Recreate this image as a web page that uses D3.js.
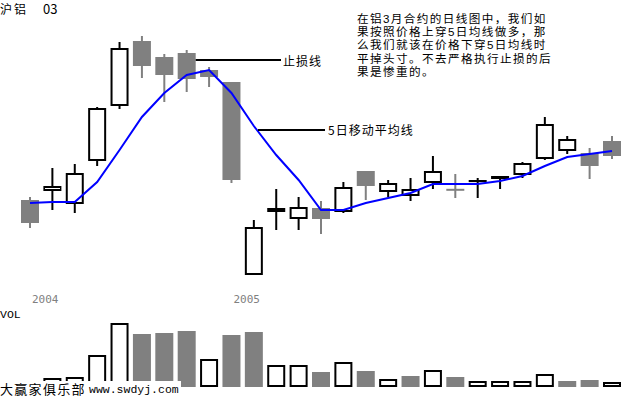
<!DOCTYPE html>
<html><head><meta charset="utf-8">
<script src="https://cdn.jsdelivr.net/npm/d3@7"></script>
<style>html,body{margin:0;padding:0;background:#fff;}svg{display:block;}</style>
</head><body>
<svg id="c" width="625" height="397"></svg>
<script>
// ---- data ----
const opens  = [15800,15890,15760,16190,16740,17390,17230,17270,17100,16980,15050,15680,15610,15720,15680,16090,15880,15840,15970,15912,16000,16010,16050,16210,16290,16270,16390];
const highs  = [15830,16120,16160,16730,17380,17440,17260,17300,17130,16980,15600,15910,15830,15790,15980,16090,16000,16020,16240,16060,16020,16040,16180,16630,16440,16320,16440];
const lows   = [15520,15700,15670,16140,16710,17020,16780,16880,16930,15970,15050,15500,15500,15460,15670,15800,15830,15790,15910,15820,15820,15910,16020,16200,16260,16010,16210];
const closes = [15570,15940,16070,16720,17320,17140,17050,17010,17030,16000,15530,15720,15730,15610,15930,15940,15970,15910,16090,15908,16000,16040,16170,16560,16410,16140,16240];
const ma5    = [15770,15780,15780,15980,16300,16630,16870,17050,17100,16870,16540,16250,16000,15700,15700,15770,15820,15870,15960,15960,15960,15990,16040,16140,16230,16260,16290];
const volumes= [4000,9000,10000,32000,64000,53000,54000,56000,28000,52000,55000,22000,22000,15000,25000,16000,8000,11000,17000,10000,6000,6000,6000,13000,6000,7000,5000];
const volUp  = [0,1,1,1,1,0,0,0,1,0,0,1,1,0,1,0,1,0,1,0,1,1,1,1,0,0,1];
const yearLabels = [{i:0, t:"2004"}, {i:9, t:"2005"}];
const titleName = "沪铝";
const titleCode = "03";
const noteLines = ["在铝3月合约的日线图中，我们如","果按照价格上穿5日均线做多，那","么我们就该在价格下穿5日均线时","平掉头寸。不去严格执行止损的后","果是惨重的。"];

// ---- drawing ----
const svg = d3.select("#c");
const GRAY = "#808080";
const CJK = "'Noto Sans CJK SC', sans-serif";
const NOTEFONT = "'Liberation Sans', 'Noto Sans CJK SC', sans-serif";
const idx = d3.range(closes.length);
const x = d3.scalePoint().domain(idx).range([30, 612]);
const y = d3.scaleLinear().domain([15000, 17500]).range([280, 30]);
const vy = d3.scaleLinear().domain([0, 70000]).range([387, 317]);
const bw = 18;

// candles
const g = svg.append("g");
idx.forEach(i => {
  const up = closes[i] >= opens[i];
  const col = up ? "#000" : GRAY;
  g.append("line").attr("x1", x(i)).attr("x2", x(i))
    .attr("y1", y(highs[i])).attr("y2", y(lows[i]))
    .attr("stroke", col).attr("stroke-width", 2);
  if (up) {
    const top = y(closes[i]), bot = y(opens[i]);
    g.append("rect").attr("x", x(i) - bw/2 + 1).attr("width", bw - 2)
      .attr("y", top + 1).attr("height", Math.max(bot - top - 2, 0.1))
      .attr("fill", "#fff").attr("stroke", "#000").attr("stroke-width", 2);
  } else {
    const top = y(opens[i]), bot = y(closes[i]);
    g.append("rect").attr("x", x(i) - bw/2).attr("width", bw)
      .attr("y", top).attr("height", Math.max(bot - top, 2))
      .attr("fill", GRAY);
  }
});

// MA line
svg.append("path").datum(ma5)
  .attr("d", d3.line().x((d,i) => x(i)).y(d => y(d)))
  .attr("fill", "none").attr("stroke", "#0000ff").attr("stroke-width", 2);

// volume bars
idx.forEach(i => {
  const top = vy(volumes[i]), bot = vy(0);
  if (volUp[i]) {
    svg.append("rect").attr("x", x(i) - bw/2 + 1).attr("width", bw - 2)
      .attr("y", top + 1).attr("height", Math.max(bot - top - 2, 0.1))
      .attr("fill", "#fff").attr("stroke", "#000").attr("stroke-width", 2);
  } else {
    svg.append("rect").attr("x", x(i) - bw/2).attr("width", bw)
      .attr("y", top).attr("height", bot - top).attr("fill", GRAY);
  }
});

// year labels
yearLabels.forEach(d => {
  svg.append("text").attr("x", x(d.i) + 2).attr("y", 303)
    .attr("font-family", "'DejaVu Sans Mono', monospace").attr("font-size", 11)
    .attr("fill", GRAY).text(d.t);
});
svg.append("text").attr("x", 0).attr("y", 318)
  .attr("font-family", "'Liberation Mono', monospace").attr("font-size", 11.5)
  .attr("fill", "#000").text("VOL");

// title
const tt = svg.append("text").attr("y", 14).attr("font-family", CJK).attr("font-size", 12);
tt.append("tspan").attr("x", 0).attr("letter-spacing", 2).text(titleName);
tt.append("tspan").attr("x", 43).attr("font-size", 13).text(titleCode);

// annotation block (one tspan per line)
const note = svg.append("text").attr("font-family", NOTEFONT).attr("font-size", 11.6)
  .attr("letter-spacing", 1.4);
noteLines.forEach((t, k) => {
  note.append("tspan").attr("x", 357).attr("y", 23 + k * 13.2).text(t);
});

// stop-loss leader
svg.append("line").attr("x1", x(7) + bw/2).attr("x2", 281)
  .attr("y1", 60).attr("y2", 60).attr("stroke", "#000").attr("stroke-width", 2);
svg.append("text").attr("x", 283).attr("y", 66).attr("font-family", CJK)
  .attr("font-size", 12).attr("letter-spacing", 1).text("止损线");

// MA leader
svg.append("line").attr("x1", 258).attr("x2", 325)
  .attr("y1", 130).attr("y2", 130).attr("stroke", "#000").attr("stroke-width", 2);
svg.append("text").attr("x", 328).attr("y", 135).attr("font-family", CJK)
  .attr("font-size", 12).attr("letter-spacing", 1).text("5日移动平均线");

// footer
svg.append("rect").attr("x", 0).attr("y", 381).attr("width", 181).attr("height", 16).attr("fill", "#fff");
svg.append("text").attr("x", 0).attr("y", 394).attr("font-family", CJK)
  .attr("font-size", 13).attr("letter-spacing", 1.3).text("大赢家俱乐部");
svg.append("text").attr("x", 89).attr("y", 393).attr("font-family", "'Liberation Mono', monospace")
  .attr("font-size", 11.5).text("www.swdyj.com");
</script>
</body></html>
